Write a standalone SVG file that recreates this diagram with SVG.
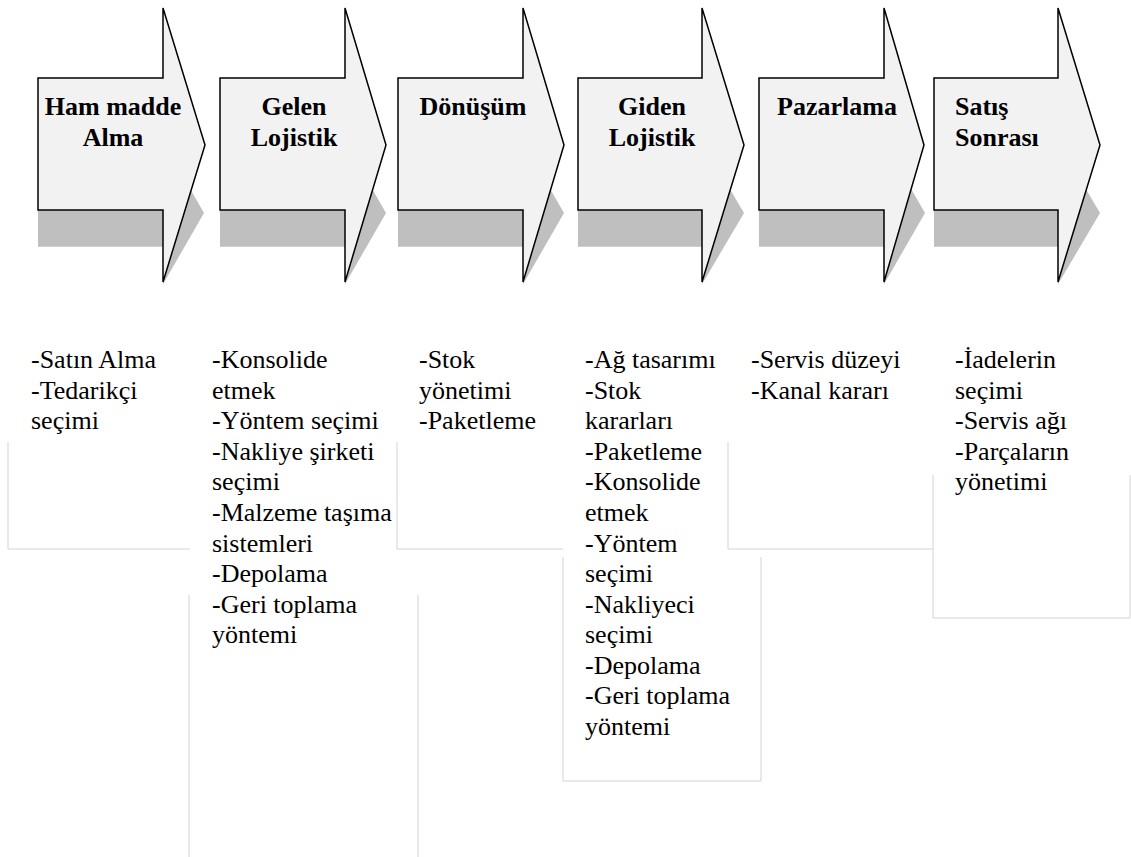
<svg xmlns="http://www.w3.org/2000/svg" width="1131" height="857" viewBox="0 0 1131 857">
<style>
.arrow{fill:#f2f2f2;stroke:#000;stroke-width:1.5;stroke-linejoin:miter}
.shadow{fill:#bfbfbf}
.title{font-weight:bold;font-size:26px;fill:#000}
.mid{text-anchor:middle}
.body{font-size:26px;fill:#000}
.box{fill:none;stroke:#d3d3d3;stroke-width:1}
</style>
<rect width="1131" height="857" fill="#fff"/>
<g id="boxes">
<path class="box" d="M8,442 V549 H190"/>
<path class="box" d="M397,442 V549 H563"/>
<path class="box" d="M728,442 V549 H933"/>
<path class="box" d="M189,595 V857 M418,595 V857"/>
<path class="box" d="M563,557 V781 H761 V557"/>
<path class="box" d="M933,475 V618 H1130 V475"/>
</g>
<g id="connectors"></g>
<g font-family="'Liberation Serif', 'Times New Roman', Times, 'DejaVu Serif', serif">
<g id="step1">
<path class="shadow" d="M38,178.2 H163 V141.8 L204,213 L163,284.2 V246.8 H38 Z"/>
<path class="arrow" d="M38,78 H163 V8 L205,145 L163,282 V210 H38 Z"/>
<text class="title mid" x="113" y="115">Ham madde</text>
<text class="title mid" x="113" y="146">Alma</text>
</g>
<g id="step2">
<path class="shadow" d="M220,178.2 H345 V141.8 L386,213 L345,284.2 V246.8 H220 Z"/>
<path class="arrow" d="M220,78 H345 V8 L386,145 L345,282 V210 H220 Z"/>
<text class="title mid" x="294" y="115">Gelen</text>
<text class="title mid" x="294" y="146">Lojistik</text>
</g>
<g id="step3">
<path class="shadow" d="M398,178.2 H523 V141.8 L564,213 L523,284.2 V246.8 H398 Z"/>
<path class="arrow" d="M398,78 H523 V8 L564,145 L523,282 V210 H398 Z"/>
<text class="title mid" x="473" y="115">Dönüşüm</text>
</g>
<g id="step4">
<path class="shadow" d="M578,178.2 H702 V141.8 L744,213 L702,284.2 V246.8 H578 Z"/>
<path class="arrow" d="M578,78 H702 V8 L744,145 L702,282 V210 H578 Z"/>
<text class="title mid" x="652" y="115">Giden</text>
<text class="title mid" x="652" y="146">Lojistik</text>
</g>
<g id="step5">
<path class="shadow" d="M759,178.2 H884 V141.8 L925,213 L884,284.2 V246.8 H759 Z"/>
<path class="arrow" d="M759,78 H884 V8 L924,145 L884,282 V210 H759 Z"/>
<text class="title mid" x="837" y="115">Pazarlama</text>
</g>
<g id="step6">
<path class="shadow" d="M934,178.2 H1058 V141.8 L1100,213 L1058,284.2 V246.8 H934 Z"/>
<path class="arrow" d="M934,78 H1058 V8 L1100,145 L1058,282 V210 H934 Z"/>
<text class="title" x="955" y="115">Satış</text>
<text class="title" x="955" y="146">Sonrası</text>
</g>
<g id="list1">
<text class="body" x="31" y="368">-Satın Alma</text>
<text class="body" x="31" y="398.6">-Tedarikçi</text>
<text class="body" x="31" y="429.2">seçimi</text>
</g>
<g id="list2">
<text class="body" x="212" y="368">-Konsolide</text>
<text class="body" x="212" y="398.6">etmek</text>
<text class="body" x="212" y="429.2">-Yöntem seçimi</text>
<text class="body" x="212" y="459.7">-Nakliye şirketi</text>
<text class="body" x="212" y="490.3">seçimi</text>
<text class="body" x="212" y="520.9">-Malzeme taşıma</text>
<text class="body" x="212" y="551.5">sistemleri</text>
<text class="body" x="212" y="582">-Depolama</text>
<text class="body" x="212" y="612.6">-Geri toplama</text>
<text class="body" x="212" y="643.2">yöntemi</text>
</g>
<g id="list3">
<text class="body" x="419" y="368">-Stok</text>
<text class="body" x="419" y="398.6">yönetimi</text>
<text class="body" x="419" y="429.2">-Paketleme</text>
</g>
<g id="list4">
<text class="body" x="585" y="368">-Ağ tasarımı</text>
<text class="body" x="585" y="398.6">-Stok</text>
<text class="body" x="585" y="429.2">kararları</text>
<text class="body" x="585" y="459.7">-Paketleme</text>
<text class="body" x="585" y="490.3">-Konsolide</text>
<text class="body" x="585" y="520.9">etmek</text>
<text class="body" x="585" y="551.5">-Yöntem</text>
<text class="body" x="585" y="582">seçimi</text>
<text class="body" x="585" y="612.6">-Nakliyeci</text>
<text class="body" x="585" y="643.2">seçimi</text>
<text class="body" x="585" y="673.8">-Depolama</text>
<text class="body" x="585" y="704.3">-Geri toplama</text>
<text class="body" x="585" y="734.9">yöntemi</text>
</g>
<g id="list5">
<text class="body" x="751" y="368">-Servis düzeyi</text>
<text class="body" x="751" y="398.6">-Kanal kararı</text>
</g>
<g id="list6">
<text class="body" x="955" y="368">-İadelerin</text>
<text class="body" x="955" y="398.6">seçimi</text>
<text class="body" x="955" y="429.2">-Servis ağı</text>
<text class="body" x="955" y="459.7">-Parçaların</text>
<text class="body" x="955" y="490.3">yönetimi</text>
</g>
</g>
</svg>
